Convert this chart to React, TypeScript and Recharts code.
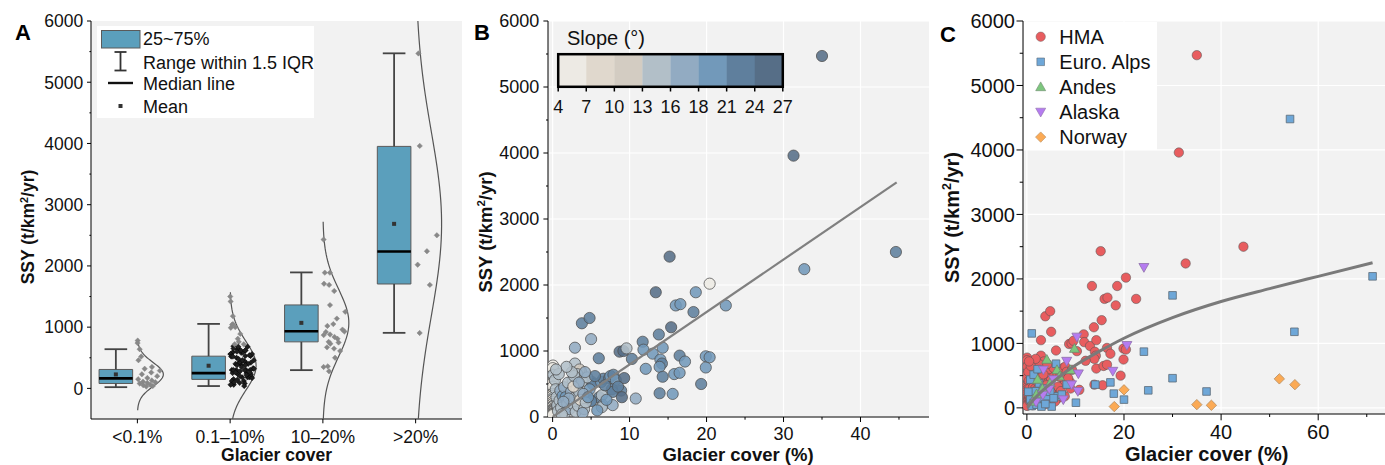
import React from 'react';
import {
  ScatterChart,
  Scatter,
  XAxis,
  YAxis,
  CartesianGrid,
  ReferenceArea,
  ReferenceLine,
  ReferenceDot,
} from 'recharts';

const FONT = 'Arial, "Liberation Sans", Helvetica, sans-serif';
const PLOT_BG = '#f2f2f2';
const INK = '#111';

// ---------- Panel A: box plot stats ----------
const groupLabels = ['<0.1%', '0.1–10%', '10–20%', '>20%'];
const boxQ1 = [80, 147, 760, 1705];
const boxMedian = [163, 250, 933, 2236];
const boxQ3 = [309, 526, 1363, 3952];
const whiskerLow = [20, 38, 298, 907];
const whiskerHigh = [640, 1053, 1894, 5472];
const boxMean = [228, 370, 1070, 2687];
const curveSd = [195, 400, 550, 1500];

// ---------- HMA catchments: [glacier cover %, SSY, slope deg] ----------
const hmaLow: [number, number, number][] = [
  [0.05, 780, 6], [0.02, 740, 5], [0.08, 640, 14], [0.03, 520, 9], [0.06, 460, 5],
  [0.01, 350, 12], [0.04, 320, 6], [0.07, 290, 14], [0.02, 260, 8], [0.05, 230, 5],
  [0.03, 200, 11], [0.06, 170, 14], [0.01, 150, 6], [0.08, 130, 9], [0.04, 110, 5],
  [0.02, 100, 13], [0.07, 90, 7], [0.05, 80, 5], [0.03, 60, 10], [0.06, 50, 6],
  [0.01, 40, 8], [0.04, 30, 5],
];
const hmaMid: [number, number, number][] = [
  [3.8, 1420, 22], [4.8, 1500, 23], [5.0, 1180, 16], [2.9, 1050, 16], [8.7, 990, 25],
  [9.2, 1000, 26], [9.6, 1040, 14], [6.0, 890, 23], [2.9, 810, 15], [3.7, 690, 8],
  [3.5, 720, 12], [3.2, 650, 14], [2.6, 560, 15], [5.1, 530, 19], [5.2, 500, 21],
  [6.3, 530, 20], [6.6, 580, 21], [7.35, 590, 21], [7.5, 620, 20], [7.9, 640, 22],
  [8.2, 560, 20], [9.3, 590, 24], [8.9, 400, 23], [7.7, 420, 22], [7.8, 380, 22],
  [6.05, 300, 21], [5.0, 250, 19], [5.0, 240, 21], [6.4, 330, 14], [6.5, 180, 16],
  [6.4, 150, 14], [7.8, 180, 16], [4.8, 420, 18], [0.3, 560, 14], [0.4, 420, 14],
  [0.5, 300, 14], [0.6, 180, 15], [0.7, 90, 13], [0.9, 250, 15], [1.0, 400, 16],
  [1.1, 140, 13], [1.3, 320, 18], [1.5, 450, 17], [1.6, 60, 14], [1.7, 300, 19],
  [1.9, 200, 14], [2.0, 520, 15], [2.2, 120, 16], [2.4, 380, 16], [2.6, 200, 14],
  [2.8, 620, 13], [2.9, 300, 15], [3.0, 80, 14], [3.1, 430, 14], [3.3, 170, 15],
  [3.45, 380, 14], [3.6, 260, 8], [3.8, 540, 15], [4.0, 350, 17], [4.1, 120, 13],
  [4.3, 220, 15], [4.5, 600, 14], [2.5, 680, 15], [1.8, 760, 14], [0.8, 650, 13],
  [1.2, 40, 13], [2.1, 280, 16], [3.9, 60, 17], [4.6, 300, 18], [0.45, 720, 14],
  [1.4, 230, 16], [2.7, 460, 9], [3.4, 520, 16], [5.5, 620, 21], [6.8, 480, 22],
  [8.5, 460, 23], [9.0, 300, 24], [5.8, 100, 18], [7.0, 260, 20], [4.2, 680, 16],
];
const hmaHigh: [number, number, number][] = [
  [15.2, 2430, 24], [13.4, 1890, 26], [18.6, 1890, 19], [16.0, 1690, 19], [16.6, 1710, 19],
  [18.3, 1590, 22], [15.4, 1360, 25], [13.8, 1250, 21], [11.7, 1140, 21], [11.8, 1020, 19],
  [13.0, 960, 18], [14.3, 1050, 19], [14.0, 870, 20], [14.2, 810, 21], [13.9, 760, 19],
  [16.5, 930, 21], [17.2, 840, 19], [19.9, 920, 18], [19.9, 750, 19], [12.1, 730, 19],
  [14.3, 610, 22], [15.8, 650, 19], [16.5, 670, 19], [19.3, 500, 22], [13.9, 360, 22],
  [15.6, 350, 19], [10.8, 280, 16], [10.3, 880, 21],
];
const hmaTop: [number, number, number][] = [
  [35.0, 5470, 25], [31.3, 3960, 25], [44.6, 2500, 21], [32.7, 2240, 18],
  [20.4, 2020, 5], [22.5, 1690, 19], [20.4, 905, 19],
];
const hmaGroups = [hmaLow, hmaMid, hmaHigh, hmaTop];

// ---------- Other regions (panel C): [glacier cover %, SSY] ----------
const alpsPoints: [number, number][] = [
  [54.2, 4480], [71.2, 2040], [30.0, 1745], [55.1, 1180], [1.0, 1155], [24.1, 872],
  [30.0, 460], [25.0, 272], [37.0, 254], [17.9, 221], [20.0, 128], [17.2, 395],
  [14.1, 361], [8.2, 361], [10.1, 80], [5.1, 20], [6.0, 685], [1.7, 257], [0.7, 128],
  [1.4, 77], [2.7, 128], [4.1, 180], [6.2, 180], [7.2, 206], [0.7, 438], [1.4, 515],
  [2.5, 380], [3.5, 300], [4.8, 250], [5.5, 150], [1.0, 30], [2.0, 50], [3.0, 20],
  [2.2, 600], [0.3, 250], [3.8, 60],
];
const andesPoints: [number, number][] = [
  [4.1, 750], [9.8, 920], [9.0, 590], [6.2, 590], [6.7, 490], [2.2, 440], [4.8, 390],
  [2.0, 215], [3.2, 300], [1.2, 100],
];
const alaskaPoints: [number, number][] = [
  [24.1, 2180], [10.3, 1100], [20.6, 970], [17.7, 570], [10.6, 530], [8.2, 725],
  [9.2, 360], [10.5, 257], [3.4, 590], [5.5, 440], [4.6, 290], [3.3, 200], [7.5, 128],
  [1.9, 90],
];
const norwayPoints: [number, number][] = [
  [18, 20], [20, 280], [35, 50], [38, 40], [52, 450], [55.2, 360],
];

// ---------- fitted lines ----------
const bFitX = [0, 44.7];
const bFitY = [0, 3555];
const cFitX = [0.1, 1.4, 2.7, 4.1, 5.5, 7.5, 10, 15, 20, 30, 40, 50, 60, 71.2];
const cFitY = [0, 130, 230, 325, 410, 530, 660, 880, 1080, 1400, 1650, 1850, 2040, 2250];

// ---------- slope colour bar ----------
const slopeEdges = [4, 7, 10, 13, 16, 18, 21, 24, 27];
const slopeColors = ['#edeae4', '#e0d8cd', '#d3ccc2', '#b2bfc8', '#92abc2', '#7299ba', '#5f7f9d', '#566e87'];

const regionNames = ['HMA', 'Euro. Alps', 'Andes', 'Alaska', 'Norway'];
const regionColors = ['#e85d5f', '#6ea7d8', '#7dc67e', '#b57cf0', '#fbaa55'];

const BOX_FILL = '#5b9fbc';

function slopeColor(s: number) {
  for (let k = 0; k < slopeColors.length; k++) if (s < slopeEdges[k + 1]) return slopeColors[k];
  return slopeColors[slopeColors.length - 1];
}

const range = (a: number, b: number, step: number) => {
  const out: number[] = [];
  for (let v = a; v <= b + 1e-9; v += step) out.push(v);
  return out;
};

// ---------- ticks ----------
type TickOpts = { majors: number[]; major: number; minor: number; gap: number; size: number; fmt?: (v: number) => string };

const bottomTick = (o: TickOpts) => (p: any) => {
  const v = p.payload.value;
  const isMajor = o.majors.includes(v);
  return (
    <g>
      <line x1={p.x} x2={p.x} y1={p.y} y2={p.y + (isMajor ? o.major : o.minor)} stroke="#000" />
      {isMajor && (
        <text x={p.x} y={p.y + o.gap} textAnchor="middle" fontSize={o.size} fontFamily={FONT} fill={INK}>
          {o.fmt ? o.fmt(v) : v}
        </text>
      )}
    </g>
  );
};

const leftTick = (o: TickOpts) => (p: any) => {
  const v = p.payload.value;
  const isMajor = o.majors.includes(v);
  return (
    <g>
      <line x1={p.x - (isMajor ? o.major : o.minor)} x2={p.x} y1={p.y} y2={p.y} stroke="#000" />
      {isMajor && (
        <text x={p.x - o.gap} y={p.y} dy="0.36em" textAnchor="end" fontSize={o.size} fontFamily={FONT} fill={INK}>
          {v}
        </text>
      )}
    </g>
  );
};

const yMajors = range(0, 6000, 1000);
const yMinors = range(500, 5500, 1000);
const yTicks = [...yMajors, ...yMinors].sort((a, b) => a - b);

const frame = { stroke: '#000', strokeWidth: 1 };

// ---------- Panel A ----------
const JITTER_W = 0.27;
const CURVE_W = 0.28;
const dens = (gi: number, y: number) => Math.exp(-((y - boxMean[gi]) ** 2) / (2 * curveSd[gi] ** 2));

const aPoints = hmaGroups.flatMap((g, gi) =>
  g.map((pt, i) => {
    const u = ((i + 1) * 0.618034) % 1;
    return { x: gi + 0.5 + u * JITTER_W * dens(gi, pt[1]), y: pt[1], dark: gi === 1 && pt[1] < 720 };
  })
);

const aCurve = (gi: number) => {
  const m = boxMean[gi];
  const sd = curveSd[gi];
  const lo = Math.max(-500, m - 3 * sd);
  const hi = Math.min(6000, m + 3 * sd);
  return Array.from({ length: 61 }, (_, k) => {
    const y = lo + ((hi - lo) * k) / 60;
    return { x: gi + 0.5 + CURVE_W * dens(gi, y), y };
  });
};

const diamond = (p: any) => {
  const { cx, cy } = p;
  const r = 2.7;
  const dark = p.payload && p.payload.dark;
  return (
    <path
      d={`M${cx},${cy - r}L${cx + r},${cy}L${cx},${cy + r}L${cx - r},${cy}Z`}
      fill={dark ? '#1e1e1e' : '#888'}
      stroke={dark ? '#000' : '#888'}
      strokeWidth={0.5}
    />
  );
};

const emptyShape = () => <g />;

function PanelA() {
  const BOX_OFF = -0.232;
  const BOX_HALF = 0.181;
  const CAP_HALF = 0.122;
  const whisk = { stroke: '#444', strokeWidth: 1.8 };
  const boxes = groupLabels.flatMap((_, gi) => {
    const c = gi + 0.5 + BOX_OFF;
    return [
      <ReferenceLine key={`wh${gi}`} segment={[{ x: c, y: boxQ3[gi] }, { x: c, y: whiskerHigh[gi] }]} {...whisk} />,
      <ReferenceLine key={`wl${gi}`} segment={[{ x: c, y: boxQ1[gi] }, { x: c, y: whiskerLow[gi] }]} {...whisk} />,
      <ReferenceLine key={`ch${gi}`} segment={[{ x: c - CAP_HALF, y: whiskerHigh[gi] }, { x: c + CAP_HALF, y: whiskerHigh[gi] }]} {...whisk} />,
      <ReferenceLine key={`cl${gi}`} segment={[{ x: c - CAP_HALF, y: whiskerLow[gi] }, { x: c + CAP_HALF, y: whiskerLow[gi] }]} {...whisk} />,
      <ReferenceArea key={`b${gi}`} x1={c - BOX_HALF} x2={c + BOX_HALF} y1={boxQ1[gi]} y2={boxQ3[gi]} fill={BOX_FILL} fillOpacity={1} stroke="#5a5a5a" strokeWidth={1} />,
      <ReferenceLine key={`m${gi}`} segment={[{ x: c - BOX_HALF, y: boxMedian[gi] }, { x: c + BOX_HALF, y: boxMedian[gi] }]} stroke="#000" strokeWidth={2.6} />,
      <ReferenceDot
        key={`mean${gi}`}
        x={c}
        y={boxMean[gi]}
        r={2}
        shape={(p: any) => <rect x={p.cx - 2} y={p.cy - 2} width={4} height={4} fill="#333" />}
      />,
    ];
  });
  return (
    <ScatterChart width={470} height={465} margin={{ top: 21, right: 8, bottom: 0, left: 0 }}>
      <CartesianGrid fill={PLOT_BG} horizontal={false} vertical={false} />
      <XAxis
        type="number"
        dataKey="x"
        domain={[0, 4]}
        ticks={[0.5, 1.5, 2.5, 3.5]}
        interval={0}
        allowDataOverflow
        height={46}
        tickSize={0}
        tickMargin={0}
        tickLine={false}
        axisLine={frame}
        tick={bottomTick({ majors: [0.5, 1.5, 2.5, 3.5], major: 4.3, minor: 0, gap: 23.5, size: 17.5, fmt: (v) => groupLabels[Math.floor(v)] })}
      />
      <XAxis xAxisId="top" orientation="top" type="number" dataKey="x" domain={[0, 4]} height={0} tick={false} tickLine={false} axisLine={frame} />
      <YAxis
        type="number"
        dataKey="y"
        domain={[-500, 6000]}
        ticks={yTicks}
        interval={0}
        allowDataOverflow
        width={91}
        tickSize={0}
        tickMargin={0}
        tickLine={false}
        axisLine={frame}
        tick={leftTick({ majors: yMajors, major: 4, minor: 1.6, gap: 7.7, size: 17.5 })}
      />
      <YAxis yAxisId="right" orientation="right" type="number" domain={[-500, 6000]} width={0} tick={false} tickLine={false} axisLine={frame} />
      {boxes}
      {groupLabels.map((_, gi) => (
        <Scatter
          key={`curve${gi}`}
          data={aCurve(gi)}
          line={{ stroke: '#555', strokeWidth: 1.2 }}
          shape={emptyShape}
          isAnimationActive={false}
        />
      ))}
      <Scatter data={aPoints} shape={diamond} isAnimationActive={false} />
    </ScatterChart>
  );
}

// ---------- Panel B ----------
const bPoints = hmaGroups.flat().map(([x, y, s]) => ({ x, y, s }));
const bFit = bFitX.map((x, i) => ({ x, y: bFitY[i] }));

const slopeDot = (p: any) => (
  <circle
    cx={p.cx}
    cy={p.cy}
    r={5.6}
    fill={slopeColor(p.payload.s)}
    fillOpacity={0.88}
    stroke="#4d4d4d"
    strokeOpacity={0.75}
    strokeWidth={1}
  />
);

function PanelB() {
  const xMajors = [0, 10, 20, 30, 40];
  const xTicks = [0, 5, 10, 15, 20, 25, 30, 35, 40, 45];
  return (
    <ScatterChart width={465} height={465} margin={{ top: 21, right: 6, bottom: 0, left: 0 }}>
      <CartesianGrid fill={PLOT_BG} stroke="#fff" strokeWidth={1.2} horizontalValues={yMajors} verticalValues={xMajors} />
      <XAxis
        type="number"
        dataKey="x"
        domain={[-0.6, 48.9]}
        ticks={xTicks}
        interval={0}
        allowDataOverflow
        height={48}
        tickSize={0}
        tickMargin={0}
        tickLine={false}
        axisLine={frame}
        tick={bottomTick({ majors: xMajors, major: 5, minor: 2.7, gap: 23, size: 18 })}
      />
      <XAxis xAxisId="top" orientation="top" type="number" dataKey="x" domain={[-0.6, 48.9]} height={0} tick={false} tickLine={false} axisLine={frame} />
      <YAxis
        type="number"
        dataKey="y"
        domain={[0, 6000]}
        ticks={yTicks}
        interval={0}
        allowDataOverflow
        width={78}
        tickSize={0}
        tickMargin={0}
        tickLine={false}
        axisLine={frame}
        tick={leftTick({ majors: yMajors, major: 4.6, minor: 2, gap: 8.7, size: 18 })}
      />
      <YAxis yAxisId="right" orientation="right" type="number" domain={[0, 6000]} width={0} tick={false} tickLine={false} axisLine={frame} />
      <Scatter data={bPoints} shape={slopeDot} isAnimationActive={false} />
      <Scatter data={bFit} line={{ stroke: '#808080', strokeWidth: 2.2 }} shape={emptyShape} isAnimationActive={false} />
    </ScatterChart>
  );
}

// ---------- Panel C ----------
const toXY = (pts: [number, number][] | [number, number, number][]) => pts.map((p) => ({ x: p[0], y: p[1] }));
const cHma = toXY(hmaGroups.flat());
const cFit = cFitX.map((x, i) => ({ x, y: cFitY[i] }));

const markerPath = (kind: number, cx: number, cy: number) => {
  if (kind === 1) {
    const h = 3.8;
    return `M${cx - h},${cy - h}H${cx + h}V${cy + h}H${cx - h}Z`;
  }
  if (kind === 2) return `M${cx},${cy - 5}L${cx + 5},${cy + 3.8}L${cx - 5},${cy + 3.8}Z`;
  if (kind === 3) return `M${cx - 5},${cy - 3.8}L${cx + 5},${cy - 3.8}L${cx},${cy + 5}Z`;
  const r = 5.2;
  return `M${cx},${cy - r}L${cx + r},${cy}L${cx},${cy + r}L${cx - r},${cy}Z`;
};

const regionStroke = ['#555', '#5d6b78', '#6f8a6f', '#8f70aa', '#b58d62'];

const regionShape = (kind: number) => (p: any) => {
  if (kind === 0)
    return <circle cx={p.cx} cy={p.cy} r={4.7} fill={regionColors[0]} stroke={regionStroke[0]} strokeOpacity={0.55} strokeWidth={1} />;
  return <path d={markerPath(kind, p.cx, p.cy)} fill={regionColors[kind]} stroke={regionStroke[kind]} strokeOpacity={0.8} strokeWidth={1} />;
};

function PanelC() {
  const xMajors = [0, 20, 40, 60];
  const xTicks = [0, 10, 20, 30, 40, 50, 60, 70];
  const series = [cHma, toXY(alpsPoints), toXY(andesPoints), toXY(alaskaPoints), toXY(norwayPoints)];
  return (
    <ScatterChart width={470} height={465} margin={{ top: 21, right: 8, bottom: 0, left: 0 }}>
      <CartesianGrid fill={PLOT_BG} stroke="#fff" strokeWidth={1.2} horizontalValues={yMajors} verticalValues={xMajors} />
      <XAxis
        type="number"
        dataKey="x"
        domain={[-0.8, 75.2]}
        ticks={xTicks}
        interval={0}
        allowDataOverflow
        height={51}
        tickSize={0}
        tickMargin={0}
        tickLine={false}
        axisLine={frame}
        tick={bottomTick({ majors: xMajors, major: 6.3, minor: 3, gap: 25.3, size: 20 })}
      />
      <XAxis xAxisId="top" orientation="top" type="number" dataKey="x" domain={[-0.8, 75.2]} height={0} tick={false} tickLine={false} axisLine={frame} />
      <YAxis
        type="number"
        dataKey="y"
        domain={[-95, 6000]}
        ticks={yTicks}
        interval={0}
        allowDataOverflow
        width={93}
        tickSize={0}
        tickMargin={0}
        tickLine={false}
        axisLine={frame}
        tick={leftTick({ majors: yMajors, major: 6.5, minor: 3.3, gap: 8, size: 20 })}
      />
      {series.map((d, k) => (
        <Scatter key={regionNames[k]} data={d} shape={regionShape(k)} isAnimationActive={false} />
      ))}
      <Scatter data={cFit} line={{ stroke: '#7a7a7a', strokeWidth: 3 }} lineJointType="monotoneX" shape={emptyShape} isAnimationActive={false} />
    </ScatterChart>
  );
}

// ---------- overlays: titles, legends ----------
function YTitle({ cx, cy, size }: { cx: number; cy: number; size: number }) {
  const sh = size * 0.38;
  return (
    <text transform={`translate(${cx},${cy}) rotate(-90)`} textAnchor="middle" dy="0.36em" fontSize={size} fontWeight="bold" fontFamily={FONT} fill={INK}>
      SSY (t/km
      <tspan dy={-sh} fontSize={size * 0.62}>2</tspan>
      <tspan dy={sh}>/yr)</tspan>
    </text>
  );
}

function XTitle({ cx, y, size, children }: { cx: number; y: number; size: number; children: React.ReactNode }) {
  return (
    <text x={cx} y={y} textAnchor="middle" fontSize={size} fontWeight="bold" fontFamily={FONT} fill={INK}>
      {children}
    </text>
  );
}

function Overlay() {
  const lt = { fontSize: 18, fontFamily: FONT, fill: INK };
  const cbX0 = 558.2;
  const cbX1 = 782.8;
  const bw = (cbX1 - cbX0) / slopeColors.length;
  const legendC = { fontSize: 20, fontFamily: FONT, fill: INK };
  return (
    <svg width={1385} height={465} style={{ position: 'absolute', left: 0, top: 0, pointerEvents: 'none' }}>
      {/* panel letters */}
      <text x={15} y={40} fontSize={22} fontWeight="bold" fontFamily={FONT} fill="#000">A</text>
      <text x={474} y={40} fontSize={22} fontWeight="bold" fontFamily={FONT} fill="#000">B</text>
      <text x={940} y={42} fontSize={22} fontWeight="bold" fontFamily={FONT} fill="#000">C</text>

      {/* axis titles */}
      <XTitle cx={276.5} y={461} size={17.5}>Glacier cover</XTitle>
      <XTitle cx={738} y={461} size={18.5}>Glacier cover (%)</XTitle>
      <XTitle cx={1206.7} y={461} size={20}>Glacier cover (%)</XTitle>
      <YTitle cx={28} cy={227} size={17.5} />
      <YTitle cx={485} cy={232} size={18.5} />
      <YTitle cx={951.7} cy={217.5} size={20} />

      {/* legend A */}
      <rect x={97} y={26} width={217} height={92} fill="#fff" />
      <rect x={101.5} y={30.5} width={38.5} height={17.5} fill={BOX_FILL} stroke="#5a5a5a" />
      <text x={143} y={45} {...lt}>25~75%</text>
      <g stroke="#333" strokeWidth={1.8}>
        <line x1={120.5} x2={120.5} y1={52} y2={70.5} />
        <line x1={114.5} x2={126.5} y1={52} y2={52} />
        <line x1={114.5} x2={126.5} y1={70.5} y2={70.5} />
      </g>
      <text x={143} y={68.6} {...lt}>Range within 1.5 IQR</text>
      <line x1={108} x2={133} y1={83} y2={83} stroke="#111" strokeWidth={2.4} />
      <text x={143} y={90.2} {...lt}>Median line</text>
      <rect x={118.5} y={104} width={4} height={4} fill="#333" />
      <text x={143} y={113} {...lt}>Mean</text>

      {/* colour bar B */}
      <text x={567} y={45} fontSize={20} fontFamily={FONT} fill={INK}>Slope (°)</text>
      {slopeColors.map((c, k) => (
        <rect key={c} x={cbX0 + k * bw} y={54.2} width={bw + 0.3} height={32.6} fill={c} />
      ))}
      <rect x={558.2} y={54.2} width={cbX1 - cbX0} height={32.6} fill="none" stroke="#000" strokeWidth={2.5} />
      {slopeEdges.map((e, k) => (
        <g key={e}>
          <line x1={cbX0 + k * bw} x2={cbX0 + k * bw} y1={87.5} y2={91.5} stroke="#000" strokeWidth={1.5} />
          <text x={cbX0 + k * bw} y={113} textAnchor="middle" fontSize={18} fontFamily={FONT} fill={INK}>{e}</text>
        </g>
      ))}

      {/* legend C */}
      <rect x={1024} y={22} width={133} height={128} fill="#fff" />
      {regionNames.map((n, k) => {
        const cy = 36.7 + k * 25.1;
        const cx = 1040.7;
        return (
          <g key={n}>
            {k === 0 ? (
              <circle cx={cx} cy={cy} r={4.7} fill={regionColors[0]} stroke={regionStroke[0]} strokeOpacity={0.4} />
            ) : (
              <path d={markerPath(k, cx, cy)} fill={regionColors[k]} stroke={regionStroke[k]} strokeOpacity={0.6} />
            )}
            <text x={1059.3} y={cy} dy="0.36em" {...legendC}>{n}</text>
          </g>
        );
      })}
    </svg>
  );
}

export default function App() {
  return (
    <div style={{ position: 'absolute', left: 0, top: 0, width: 1385, height: 465, overflow: 'hidden', background: '#fff' }}>
      <div style={{ position: 'absolute', left: 0, top: 0 }}>
        <PanelA />
      </div>
      <div style={{ position: 'absolute', left: 470, top: 0 }}>
        <PanelB />
      </div>
      <div style={{ position: 'absolute', left: 930, top: 0 }}>
        <PanelC />
      </div>
      <Overlay />
    </div>
  );
}
